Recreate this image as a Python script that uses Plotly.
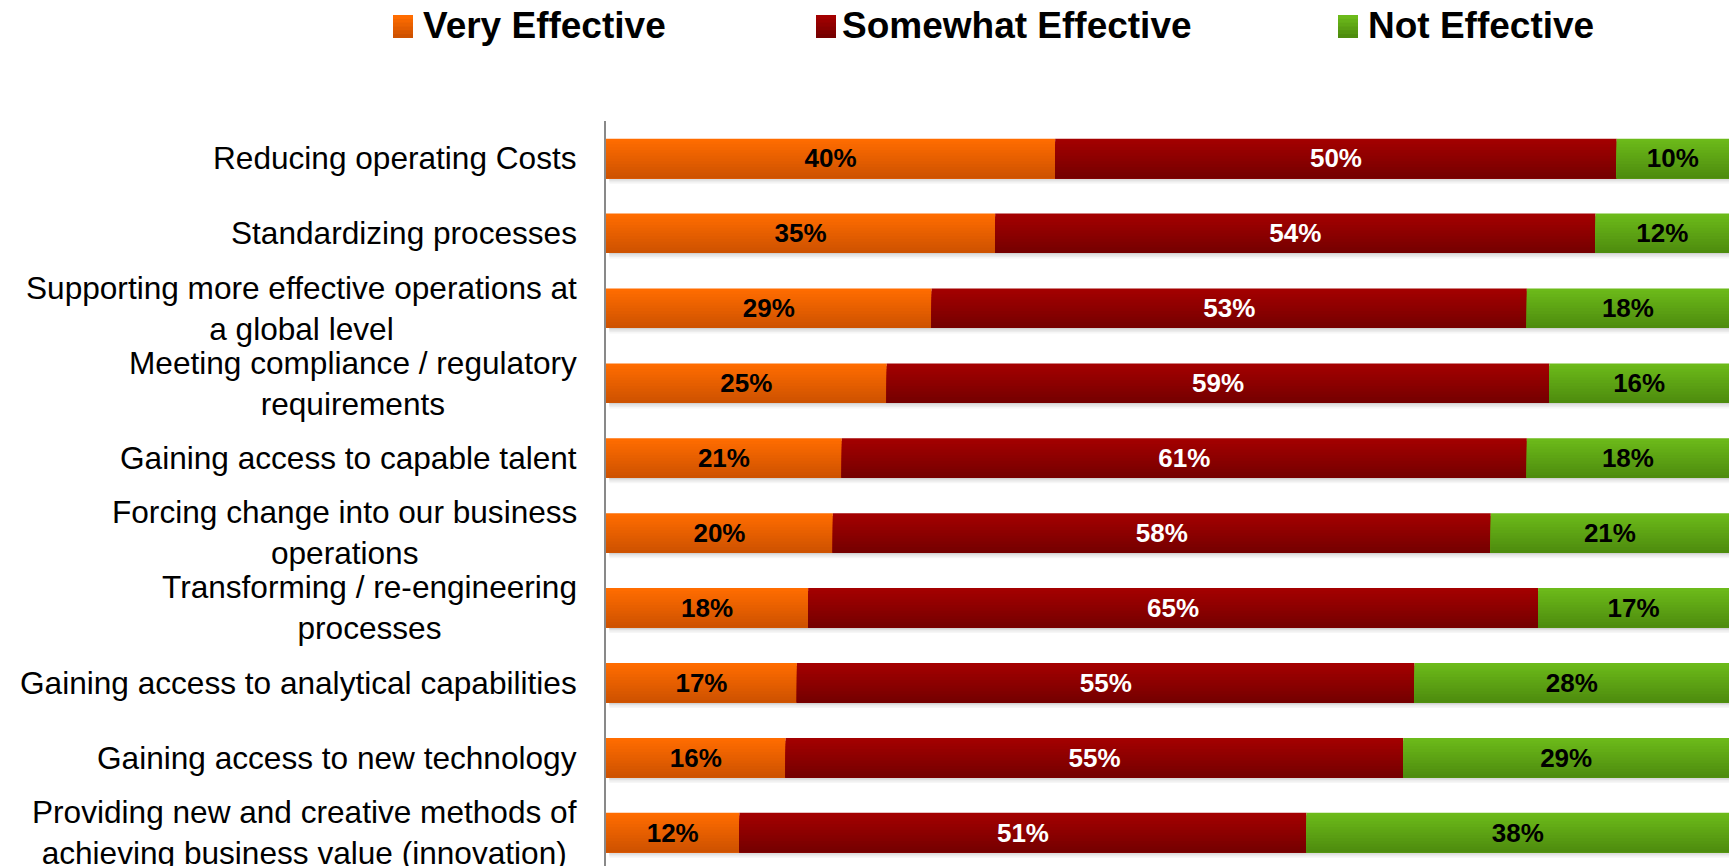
import plotly.graph_objects as go

categories = [
    "Reducing operating Costs",
    "Standardizing processes",
    "Supporting more effective operations at a global level",
    "Meeting compliance / regulatory requirements",
    "Gaining access to capable talent",
    "Forcing change into our business operations",
    "Transforming / re-engineering processes",
    "Gaining access to analytical capabilities",
    "Gaining access to new technology",
    "Providing new and creative methods of achieving business value (innovation)",
]
category_labels = [
    "Reducing operating Costs",
    "Standardizing processes",
    "Supporting more effective operations at<br>a global level",
    "Meeting compliance / regulatory<br>requirements",
    "Gaining access to capable talent",
    "Forcing change into our business<br>operations",
    "Transforming / re-engineering<br>processes",
    "Gaining access to analytical capabilities",
    "Gaining access to new technology",
    "Providing new and creative methods of<br>achieving business value (innovation)",
]
series_names = ["Very Effective", "Somewhat Effective", "Not Effective"]
very_effective = [40, 35, 29, 25, 21, 20, 18, 17, 16, 12]
somewhat_effective = [50, 54, 53, 59, 61, 58, 65, 55, 55, 51]
not_effective = [10, 12, 18, 16, 18, 21, 17, 28, 29, 38]

series_values = [very_effective, somewhat_effective, not_effective]
grad_top = [(255, 108, 0), (163, 0, 0), (108, 186, 26)]
grad_bot = [(206, 82, 0), (118, 0, 0), (78, 140, 14)]
label_colors = ["#000000", "#FFFFFF", "#000000"]

FONT = "Liberation Sans, Arial, sans-serif"
W, H = 1729, 866
ML, MT = 606, 121
SLOT = 74.9
BAR_PX = 39.5
bw = BAR_PX / SLOT
n = len(categories)
plot_h = H - MT
y_bottom = -0.5 + plot_h / SLOT

# normalise each row to 100 %
totals = [sum(s[i] for s in series_values) for i in range(n)]
pcts = [[v / totals[i] * 100 for i, v in enumerate(s)] for s in series_values]
bases = []
run = [0.0] * n
for p in pcts:
    bases.append(list(run))
    run = [run[i] + p[i] for i in range(n)]

fig = go.Figure()

# shadow under each bar (each band reaches to the bar, later ones lighter on top)
shadow_cols = ["#f6f6f6", "#ececec", "#e0e0e0", "#d2d2d2"]
sh = 1.5 / SLOT
for k, c in enumerate(shadow_cols):
    depth = (len(shadow_cols) - k) * sh
    fig.add_trace(go.Bar(
        y=categories, x=[100] * n, base=[0.3] * n, orientation="h",
        width=depth, offset=bw / 2 - 0.5 / SLOT,
        marker=dict(color=c, line=dict(width=0)),
        hoverinfo="skip", showlegend=False))

# gradient bands: each band runs from its top down to the bar bottom
K = 14
bh = bw / K
for s in range(3):
    for k in range(K):
        t = k / (K - 1)
        col = tuple(round(grad_top[s][j] + (grad_bot[s][j] - grad_top[s][j]) * t) for j in range(3))
        fig.add_trace(go.Bar(
            y=categories, x=pcts[s], base=bases[s], orientation="h",
            width=bw - k * bh, offset=-bw / 2 + k * bh,
            marker=dict(color="rgb(%d,%d,%d)" % col, line=dict(width=0)),
            hoverinfo="skip", showlegend=False))

# text labels (transparent carrier bars)
for s in range(3):
    fig.add_trace(go.Bar(
        y=categories, x=pcts[s], base=bases[s], orientation="h",
        width=bw, offset=-bw / 2, name=series_names[s],
        marker=dict(color="rgba(0,0,0,0)", line=dict(width=0)),
        text=["%d%%" % v for v in series_values[s]],
        textposition="inside", insidetextanchor="middle", textangle=0,
        textfont=dict(family=FONT, size=26, color=label_colors[s], weight="bold"),
        customdata=series_values[s],
        hovertemplate="%{y}: %{customdata}%<extra>" + series_names[s] + "</extra>",
        showlegend=False))

annotations = []
shapes = []
# category labels
for c, lab in zip(categories, category_labels):
    annotations.append(dict(
        xref="paper", x=0, xshift=-27, xanchor="right",
        yref="y", y=c, yanchor="middle",
        text=lab, align="center", showarrow=False,
        font=dict(family=FONT, size=31.6, color="#000000")))

# manual legend
leg_marker_x = [393, 816, 1338]
leg_text_x = [421, 840, 1366]
for s in range(3):
    steps = 6
    top_px, bot_px = 15, 38
    hstep = (bot_px - top_px) / steps
    for k in range(steps):
        t = k / (steps - 1)
        col = tuple(round(grad_top[s][j] + (grad_bot[s][j] - grad_top[s][j]) * t) for j in range(3))
        shapes.append(dict(
            type="rect", xref="paper", yref="paper",
            xsizemode="pixel", ysizemode="pixel", xanchor=0, yanchor=1,
            x0=leg_marker_x[s] - ML, x1=leg_marker_x[s] + 20 - ML,
            y0=MT - (top_px + k * hstep), y1=MT - bot_px,
            fillcolor="rgb(%d,%d,%d)" % col, line=dict(width=0)))
    annotations.append(dict(
        xref="paper", x=0, xshift=leg_text_x[s] - ML, xanchor="left",
        yref="paper", y=1, yshift=MT - 25, yanchor="middle",
        text=series_names[s], showarrow=False,
        font=dict(family=FONT, size=37, color="#000000", weight="bold")))

fig.update_layout(
    width=W, height=H,
    margin=dict(l=ML, r=0, t=MT, b=0, pad=0),
    barmode="overlay",
    plot_bgcolor="white", paper_bgcolor="white",
    showlegend=False,
    xaxis=dict(range=[0, 100], visible=False, fixedrange=True),
    yaxis=dict(
        type="category", categoryorder="array", categoryarray=categories,
        range=[y_bottom, -0.5], showticklabels=False, ticks="",
        showgrid=False, zeroline=False,
        showline=True, linecolor="#898989", linewidth=2),
    annotations=annotations,
    shapes=shapes,
)

fig.write_html("out.html")
